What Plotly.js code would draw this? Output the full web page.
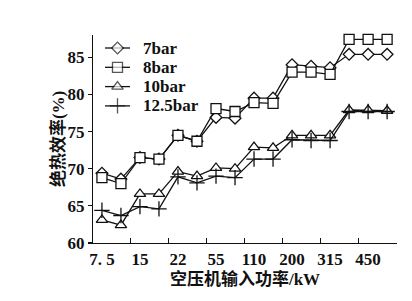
<!DOCTYPE html>
<html>
<head>
<meta charset="utf-8">
<script src="https://cdn.plot.ly/plotly-3.0.1.min.js"></script>
<style>html,body{margin:0;padding:0;background:#fff;}#chart{width:412px;height:301px;}</style>
</head>
<body>
<div id="chart"></div>
<script>
// Point positions (ordinal index of compressor input power)
const xIndex = [0,1,2,3,4,5,6,7,8,9,10,11,12,13,14,15];
// Labelled categories (every other point)
const tickPositions = [0,2,4,6,8,10,12,14];
const tickLabels = ["7. 5","15","22","55","110","200","315","450"];
const tickMarkPositions = [1.5,3.5,5.5,7.5,9.5,11.5,13.5,15.5];

const seriesNames = ["7bar","8bar","10bar","12.5bar"];
const eff7   = [69.4,68.6,71.5,71.3,74.5,73.7,76.9,76.8,79.5,79.5,84.0,83.8,83.6,85.4,85.4,85.4];
const eff8   = [68.8,68.0,71.5,71.3,74.5,73.7,78.1,77.7,78.9,78.8,83.0,83.0,82.7,87.4,87.4,87.4];
const eff10  = [63.1,62.4,66.6,66.6,69.6,69.0,70.1,70.0,72.9,72.8,74.5,74.5,74.5,77.9,77.9,77.8];
const eff125 = [64.4,63.7,64.9,64.6,68.9,68.1,69.0,68.8,71.3,71.3,73.9,73.8,73.8,77.7,77.7,77.7];

const yTicks = [60,65,70,75,80,85];

const FONT = "Liberation Serif, 'Noto Sans CJK SC', serif";
const symbols = ["diamond","square","triangle-up","cross-thin"];
const sizes = [9,10,10,11];
const fills = ["#fff","#fff","#fff","#111"];
const ys = [eff7, eff8, eff10, eff125];

const traces = ys.map((y,k)=>({
  type:"scatter", mode:"lines+markers", name:seriesNames[k],
  x:xIndex, y:y,
  line:{color:"#111", width:1.3},
  marker:{symbol:symbols[k], size:sizes[k], color:fills[k], line:{color:"#111", width:1.3}},
  cliponaxis:false, showlegend:false
}));

// invisible trace to carry the x tick marks axis
traces.push({type:"scatter", x:[tickMarkPositions[0]], y:[60], xaxis:"x2", mode:"markers",
  marker:{opacity:0}, showlegend:false, hoverinfo:"skip"});

// legend samples drawn on a pixel-scaled helper axis (x3/y3)
const annotations = [];
seriesNames.forEach((name,k)=>{
  const yc = 48 + 19.3*k;
  traces.push({type:"scatter", mode:"lines+markers", xaxis:"x3", yaxis:"y3",
    x:[105,117.5,130], y:[yc,yc,yc],
    line:{color:"#111", width:1.3},
    marker:{symbol:symbols[k], size:[0,sizes[k],0], color:fills[k], line:{color:"#111", width:1.3}},
    showlegend:false, hoverinfo:"skip", cliponaxis:false});
  annotations.push({xref:"x3", yref:"y3", x:141, y:yc, xanchor:"left", yanchor:"middle",
    text:name, showarrow:false, font:{family:FONT, size:17, color:"#111", weight:"bold"}});
});
annotations.push({xref:"paper", yref:"paper", x:-0.115, y:0.5, xanchor:"center", yanchor:"middle",
  textangle:-90, text:"绝热效率(%)", showarrow:false, font:{family:FONT, size:17, color:"#111", weight:"bold"}});

const layout = {
  width:412, height:301,
  margin:{l:93, r:15, t:35, b:58},
  paper_bgcolor:"#fff", plot_bgcolor:"#fff",
  font:{family:FONT, size:17, color:"#111"},
  showlegend:false,
  annotations:annotations,
  xaxis:{range:[-0.47,15.52], tickmode:"array", tickvals:tickPositions, ticktext:tickLabels,
    ticks:"", showline:true, linecolor:"#111", linewidth:1.2, showgrid:false, zeroline:false,
    tickfont:{family:FONT, size:17, weight:"bold"},
    title:{text:"空压机输入功率/kW", font:{family:FONT, size:17, weight:"bold"}, standoff:4}},
  xaxis2:{overlaying:"x", side:"bottom", range:[-0.47,15.52], tickmode:"array", tickvals:tickMarkPositions,
    ticks:"inside", ticklen:5, tickwidth:1.2, tickcolor:"#111", showticklabels:false, showgrid:false,
    zeroline:false, showline:false},
  xaxis3:{overlaying:"x", range:[93,397], visible:false, fixedrange:true},
  yaxis3:{overlaying:"y", range:[243,35], visible:false, fixedrange:true},
  yaxis:{range:[60,88], tickmode:"array", tickvals:yTicks, ticks:"outside", ticklen:4, tickwidth:1.2,
    tickcolor:"#111", showline:true, linecolor:"#111", linewidth:1.2, showgrid:false, zeroline:false,
    tickfont:{family:FONT, size:17, weight:"bold"}}
};

Plotly.newPlot("chart", traces, layout, {staticPlot:true, displayModeBar:false});
</script>
</body>
</html>
